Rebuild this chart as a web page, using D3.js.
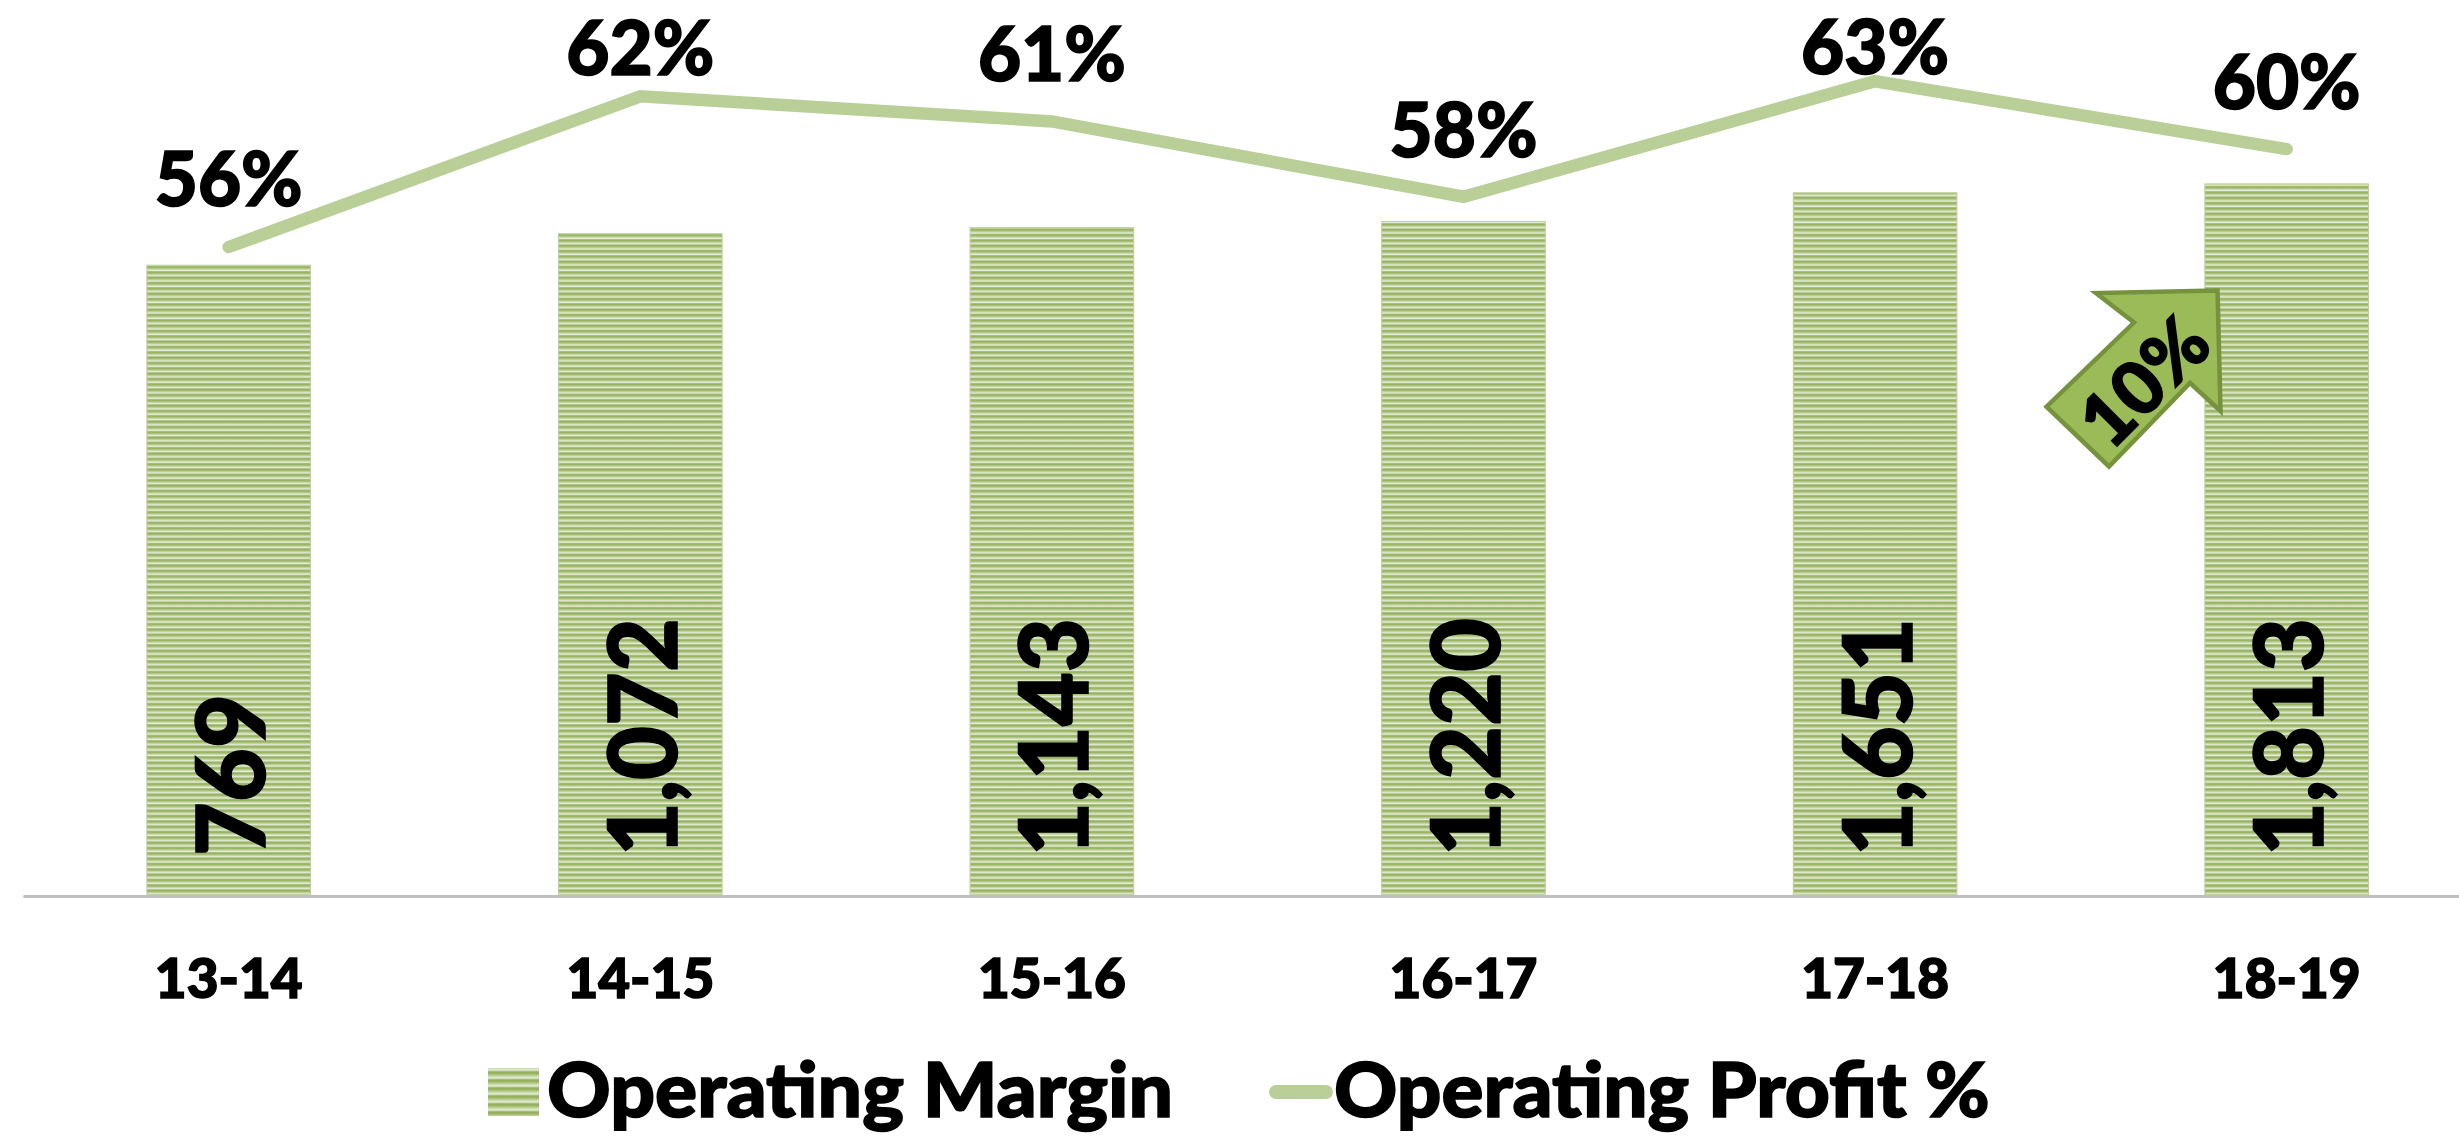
<!DOCTYPE html>
<html><head><meta charset="utf-8">
<script src="https://cdn.jsdelivr.net/npm/d3@7/dist/d3.min.js"></script>
<style>html,body{margin:0;padding:0;background:#fff;overflow:hidden}svg{display:block}
text{font-family:Lato,"Open Sans",sans-serif;font-weight:900;fill:#000;stroke:#000;stroke-width:1.6px;paint-order:stroke}</style></head>
<body><script>
const categories = ["13-14","14-15","15-16","16-17","17-18","18-19"];
const operatingMargin = [769,1072,1143,1220,1651,1813];
const operatingProfitPct = [56,62,61,58,62.6,59.9];
const pctLabelLift = [41,21,40,40,7,40];
const legendBarLabel = "Operating Margin";
const legendLineLabel = "Operating Profit %";
const growthLabel = "10%";

const W=2459,H=1139;
const svg=d3.select("body").append("svg").attr("width",W).attr("height",H);
const defs=svg.append("defs");
function stripes(id,period){
  const g=defs.append("linearGradient").attr("id",id+"G").attr("x1",0).attr("y1",0).attr("x2",0).attr("y2",1);
  [[0,"#8fac58"],[.25,"#a0b96b"],[.55,"#cbdaae"],[.75,"#e6eddb"],[1,"#8fac58"]].forEach(s=>g.append("stop").attr("offset",s[0]).attr("stop-color",s[1]));
  const p=defs.append("pattern").attr("id",id).attr("patternUnits","userSpaceOnUse").attr("width",10).attr("height",period);
  p.append("rect").attr("width",10).attr("height",period).attr("fill",`url(#${id}G)`);
}
stripes("barFill",5.33);
stripes("legendFill",8);

const x=d3.scaleBand().domain(categories).range([22.9,2492.5]).paddingInner(.6).paddingOuter(.3);
const y=d3.scaleLog().domain([1,10000]).range([894.7,21.5]);
const yPct=d3.scaleLinear().domain([56,62]).range([247,96.3]);
const cx=c=>x(c)+x.bandwidth()/2;

svg.append("g").selectAll("rect").data(categories).join("rect")
  .attr("x",c=>x(c)+.5).attr("width",x.bandwidth()-1)
  .attr("y",(c,i)=>y(operatingMargin[i])+.5).attr("height",(c,i)=>y(1)-y(operatingMargin[i])-.5)
  .attr("fill","url(#barFill)").attr("stroke","#bcd098").attr("stroke-width",1);

const axis=svg.append("g").attr("transform","translate(0,896)").call(d3.axisBottom(x).tickSize(0).tickPadding(0));
axis.select(".domain").attr("stroke","#bfbfbf").attr("stroke-width",3.2);
axis.selectAll(".tick text").attr("font-size",56).attr("dy",0).attr("y",102).attr("x",0)
  .attr("text-anchor","middle").attr("transform","scale(.98,1)")
  .style("font-family","Lato").style("font-weight",900);

const line=d3.line().x((d,i)=>cx(categories[i])).y(d=>yPct(d));
svg.append("path").attr("d",line(operatingProfitPct)).attr("fill","none")
  .attr("stroke","#b9cf97").attr("stroke-width",12.5).attr("stroke-linecap","round").attr("stroke-linejoin","miter");

svg.append("g").selectAll("text").data(categories).join("text")
  .attr("text-anchor","middle").attr("font-size",76)
  .attr("transform",(c,i)=>`translate(${cx(c)},${yPct(operatingProfitPct[i])-pctLabelLift[i]}) scale(.98,1)`)
  .text((c,i)=>Math.round(operatingProfitPct[i])+"%");

svg.append("g").selectAll("text").data(categories).join("text")
  .attr("text-anchor","start").attr("font-size",96)
  .attr("transform",c=>`translate(${cx(c)+36.5},856) rotate(-90) scale(.97,1)`)
  .text((c,i)=>d3.format(",")(operatingMargin[i]));

// growth arrow annotation
svg.append("polygon").attr("points","2217.5,290.5 2096,293 2134,322.5 2046.5,406.7 2109,466.5 2190,383 2220.5,411")
  .attr("fill","#9bbb59").attr("stroke","#76923c").attr("stroke-width",4.5).attr("stroke-linejoin","miter");
svg.append("text").attr("text-anchor","middle").attr("font-size",74)
  .attr("transform","translate(2163,400) rotate(-45)").text(growthLabel);

// legend
svg.append("rect").attr("x",488).attr("y",1068).attr("width",51).attr("height",48).attr("fill","url(#legendFill)");
svg.append("text").attr("font-size",76).attr("transform","translate(547,1117) scale(1.035,1)").text(legendBarLabel);
svg.append("line").attr("x1",1276).attr("x2",1326).attr("y1",1092).attr("y2",1092)
  .attr("stroke","#b9cf97").attr("stroke-width",14).attr("stroke-linecap","round");
svg.append("text").attr("font-size",76).attr("transform","translate(1334,1117) scale(1.03,1)").text(legendLineLabel);
</script></body></html>
